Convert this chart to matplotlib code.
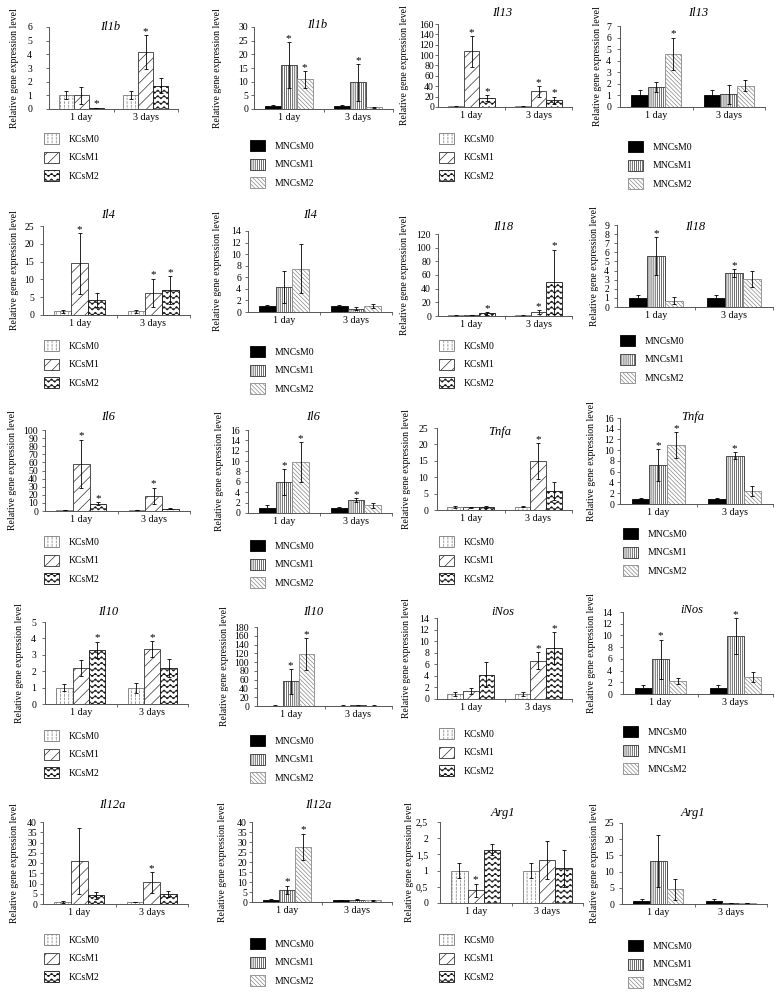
import numpy as np
import matplotlib
matplotlib.use('Agg')
import matplotlib.pyplot as plt
import matplotlib.hatch as mhatch
from matplotlib.path import Path
from matplotlib.ticker import MultipleLocator, FuncFormatter

# ---------------- custom hatches (wave '~' and dashed vertical ':') -------------
mhatch._validate_hatch_pattern = lambda h: None


class WaveHatch(mhatch.HatchPatternBase):
    def __init__(self, hatch, density):
        self.num_lines = int(hatch.count('~') * density)
        self.periods = 16
        self.pts = self.periods * 8 + 1
        self.num_vertices = self.num_lines * self.pts

    def set_vertices_and_codes(self, vertices, codes):
        n, p = self.num_lines, self.pts
        xs = np.linspace(0, 1, p)
        amp = 0.3 / n
        k = 0
        for i in range(n):
            y0 = (i + 0.5) / n
            vertices[k:k + p, 0] = xs
            vertices[k:k + p, 1] = y0 + amp * np.sin(2 * np.pi * self.periods * xs)
            codes[k] = Path.MOVETO
            codes[k + 1:k + p] = Path.LINETO
            k += p


class DashHatch(mhatch.HatchPatternBase):
    def __init__(self, hatch, density):
        self.num_cols = int(hatch.count(':') * density)
        self.num_dashes = int(self.num_cols * 1.2)
        self.num_vertices = self.num_cols * self.num_dashes * 2

    def set_vertices_and_codes(self, vertices, codes):
        n, m = self.num_cols, self.num_dashes
        xs = (np.arange(n) + 0.5) / n
        y0 = np.arange(m) / m
        y1 = y0 + 0.55 / m
        X = np.repeat(xs, m)
        vertices[0::2, 0] = X
        vertices[0::2, 1] = np.tile(y0, n)
        vertices[1::2, 0] = X
        vertices[1::2, 1] = np.tile(y1, n)
        codes[0::2] = Path.MOVETO
        codes[1::2] = Path.LINETO


mhatch._hatch_types.append(WaveHatch)
mhatch._hatch_types.append(DashHatch)

plt.rcParams['font.family'] = ['Liberation Serif', 'DejaVu Serif']
plt.rcParams['hatch.linewidth'] = 0.5

# ---------------- data (rows = series M0, M1, M2 ; columns = days) ----------------
days = ['1 day', '3 days']
kc_series = ['KCsM0', 'KCsM1', 'KCsM2']
mnc_series = ['MNCsM0', 'MNCsM1', 'MNCsM2']
ylabel = 'Relative gene expression level'

genes = ['Il1b', 'Il1b', 'Il13', 'Il13',
         'Il4', 'Il4', 'Il18', 'Il18',
         'Il6', 'Il6', 'Tnfa', 'Tnfa',
         'Il10', 'Il10', 'iNos', 'iNos',
         'Il12a', 'Il12a', 'Arg1', 'Arg1']
cells = ['KC', 'MNC'] * 10

il1b_kc = [[1.0, 1.0], [1.0, 4.15], [0.07, 1.7]]
il1b_kc_err = [[0.3, 0.3], [0.6, 1.25], [0.03, 0.55]]
il1b_kc_sig = [[0, 0], [0, 1], [1, 0]]

il1b_mnc = [[1.0, 1.0], [16.0, 9.7], [10.8, 0.6]]
il1b_mnc_err = [[0.3, 0.3], [8.5, 6.6], [3.2, 0.2]]
il1b_mnc_sig = [[0, 0], [1, 1], [1, 0]]

il13_kc = [[1.0, 1.0], [107, 30], [17, 13]]
il13_kc_err = [[0.5, 0.5], [30, 11], [6, 7]]
il13_kc_sig = [[0, 0], [1, 1], [1, 1]]

il13_mnc = [[1.0, 1.0], [1.75, 1.1], [4.6, 1.85]]
il13_mnc_err = [[0.5, 0.5], [0.45, 0.8], [1.4, 0.5]]
il13_mnc_sig = [[0, 0], [0, 0], [1, 0]]

il4_kc = [[1.0, 1.0], [14.5, 6.2], [4.2, 7.0]]
il4_kc_err = [[0.3, 0.3], [8.5, 4.0], [2.0, 4.0]]
il4_kc_sig = [[0, 0], [1, 1], [0, 1]]

il4_mnc = [[1.0, 1.0], [4.3, 0.6], [7.5, 1.0]]
il4_mnc_err = [[0.2, 0.2], [2.7, 0.2], [4.3, 0.3]]
il4_mnc_sig = [[0, 0], [0, 0], [0, 0]]

il18_kc = [[1.0, 1.0], [1.5, 6.0], [4.0, 50]]
il18_kc_err = [[0.3, 0.3], [0.5, 3.0], [2.0, 47]]
il18_kc_sig = [[0, 0], [0, 1], [1, 1]]

il18_mnc = [[1.0, 1.0], [5.6, 3.75], [0.7, 3.1]]
il18_mnc_err = [[0.3, 0.3], [2.1, 0.45], [0.4, 0.9]]
il18_mnc_sig = [[0, 0], [1, 1], [0, 0]]

il6_kc = [[1.0, 1.0], [58, 19], [9, 3]]
il6_kc_err = [[0.3, 0.3], [30, 10], [2, 1]]
il6_kc_sig = [[0, 0], [1, 1], [1, 0]]

il6_mnc = [[1.0, 1.0], [5.9, 2.5], [9.8, 1.5]]
il6_mnc_err = [[0.5, 0.2], [2.5, 0.4], [3.9, 0.5]]
il6_mnc_sig = [[0, 0], [1, 1], [1, 0]]

tnfa_kc = [[1.0, 1.0], [0.8, 14.8], [0.9, 5.8]]
tnfa_kc_err = [[0.3, 0.2], [0.2, 5.5], [0.2, 2.6]]
tnfa_kc_sig = [[0, 0], [0, 1], [0, 0]]

tnfa_mnc = [[1.0, 1.0], [7.2, 9.0], [11.0, 2.4]]
tnfa_mnc_err = [[0.1, 0.1], [3.0, 0.7], [2.4, 1.0]]
tnfa_mnc_sig = [[0, 0], [1, 1], [1, 0]]

il10_kc = [[1.0, 1.0], [2.2, 3.35], [3.3, 2.2]]
il10_kc_err = [[0.2, 0.3], [0.5, 0.5], [0.5, 0.55]]
il10_kc_sig = [[0, 0], [0, 1], [1, 0]]

il10_mnc = [[1.0, 1.0], [56, 1.2], [118, 1.0]]
il10_mnc_err = [[0.3, 0.3], [28, 0.3], [36, 0.5]]
il10_mnc_sig = [[0, 0], [1, 0], [1, 0]]

inos_kc = [[0.9, 0.9], [1.4, 6.6], [4.2, 8.8]]
inos_kc_err = [[0.3, 0.3], [0.5, 1.5], [2.2, 2.7]]
inos_kc_sig = [[0, 0], [0, 1], [0, 1]]

inos_mnc = [[1.0, 1.0], [5.9, 9.9], [2.2, 2.9]]
inos_mnc_err = [[0.6, 0.6], [3.4, 3.0], [0.5, 0.8]]
inos_mnc_sig = [[0, 0], [1, 1], [0, 0]]

il12a_kc = [[1.0, 1.0], [21, 10.5], [4.2, 4.7]]
il12a_kc_err = [[0.3, 0.2], [16, 5], [1.8, 1.5]]
il12a_kc_sig = [[0, 0], [0, 1], [0, 0]]

il12a_mnc = [[1.0, 1.0], [6.0, 1.2], [27.7, 0.9]]
il12a_mnc_err = [[0.3, 0.2], [2.2, 0.2], [6.5, 0.2]]
il12a_mnc_sig = [[0, 0], [1, 0], [1, 0]]

arg1_kc = [[1.0, 1.0], [0.4, 1.32], [1.65, 1.07]]
arg1_kc_err = [[0.22, 0.22], [0.2, 0.58], [0.18, 0.57]]
arg1_kc_sig = [[0, 0], [1, 0], [0, 0]]

arg1_mnc = [[1.0, 1.0], [13.4, 0.35], [4.5, 0.3]]
arg1_mnc_err = [[0.4, 0.4], [8.0, 0.1], [3.3, 0.1]]
arg1_mnc_sig = [[0, 0], [0, 0], [0, 0]]

means = [il1b_kc, il1b_mnc, il13_kc, il13_mnc, il4_kc, il4_mnc, il18_kc, il18_mnc,
         il6_kc, il6_mnc, tnfa_kc, tnfa_mnc, il10_kc, il10_mnc, inos_kc, inos_mnc,
         il12a_kc, il12a_mnc, arg1_kc, arg1_mnc]
errs = [il1b_kc_err, il1b_mnc_err, il13_kc_err, il13_mnc_err, il4_kc_err, il4_mnc_err,
        il18_kc_err, il18_mnc_err, il6_kc_err, il6_mnc_err, tnfa_kc_err, tnfa_mnc_err,
        il10_kc_err, il10_mnc_err, inos_kc_err, inos_mnc_err, il12a_kc_err, il12a_mnc_err,
        arg1_kc_err, arg1_mnc_err]
sigs = [il1b_kc_sig, il1b_mnc_sig, il13_kc_sig, il13_mnc_sig, il4_kc_sig, il4_mnc_sig,
        il18_kc_sig, il18_mnc_sig, il6_kc_sig, il6_mnc_sig, tnfa_kc_sig, tnfa_mnc_sig,
        il10_kc_sig, il10_mnc_sig, inos_kc_sig, inos_mnc_sig, il12a_kc_sig, il12a_mnc_sig,
        arg1_kc_sig, arg1_mnc_sig]

y_max = [6, 30, 160, 7, 25, 14, 120, 9, 100, 16, 25, 16, 5, 180, 14, 14, 40, 40, 2.5, 25]
y_step = [1, 5, 20, 1, 5, 2, 20, 1, 10, 2, 5, 2, 1, 20, 2, 2, 5, 5, 0.5, 5]

# ---------------- layout (pixels) ----------------
W, H = 776, 996
# (x of y-axis, right end, y of top, y of zero)
axes_px = [(49, 178, 27, 109), (254, 393, 27, 109), (438, 572, 24, 107), (620, 765, 26, 107),
           (43, 190, 226, 315), (248, 392, 231, 312), (438, 572, 234, 316), (617, 773, 225, 307),
           (45, 190, 430, 511), (248, 392, 430, 513), (437, 572, 428, 510), (620, 773, 418, 504),
           (45, 188, 622, 704), (257, 392, 627, 706), (437, 572, 618, 699), (623, 773, 612, 694),
           (43, 188, 822, 904), (252, 392, 822, 902), (440, 583, 822, 903), (622, 767, 823, 904)]
label_gap = [16, 5, 3, 8, 8, 6, 6, 7, 6, 7, 8, 5, 8, 7, 7, 10, 5, 4, 11, 7]
title_px = [(110, 27), (317, 25), (502, 13), (698, 13),
            (108, 215), (310, 215), (503, 227), (695, 227),
            (108, 417), (313, 417), (500, 432), (693, 417),
            (108, 612), (313, 612), (503, 612), (692, 610),
            (112, 805), (318, 805), (503, 813), (693, 813)]
ylabel_x = [15, 218, 405, 598, 15, 218, 405, 595, 13, 220, 407, 592,
            20, 225, 407, 592, 15, 223, 410, 595]
legend_px = [(44, 140), (250, 147), (439, 140), (628, 148),
             (44, 347), (250, 353), (439, 347), (620, 342),
             (44, 543), (250, 547), (439, 543), (623, 535),
             (44, 737), (250, 742), (439, 735), (623, 733),
             (44, 941), (250, 945), (439, 941), (628, 947)]

styles = {
    'KC': [dict(facecolor='white', edgecolor='#777777', hatch='::::'),
           dict(facecolor='white', edgecolor='#333333', hatch='///'),
           dict(facecolor='white', edgecolor='#111111', hatch='~~~')],
    'MNC': [dict(facecolor='black', edgecolor='black'),
            dict(facecolor='white', edgecolor='#333333', hatch='||||||||'),
            dict(facecolor='white', edgecolor='#888888', hatch='\\\\\\\\\\\\\\\\')],
}

fig = plt.figure(figsize=(W / 100, H / 100), dpi=100)
fmt = FuncFormatter(lambda v, p: ('%g' % round(v, 3)).replace('.', ','))
bw = 0.23

for i in range(20):
    x0, x1, yt, yz = axes_px[i]
    ax = fig.add_axes([x0 / W, 1 - yz / H, (x1 - x0) / W, (yz - yt) / H])
    kind = cells[i]
    names = kc_series if kind == 'KC' else mnc_series
    m = np.array(means[i], dtype=float)
    e = np.array(errs[i], dtype=float)
    s = np.array(sigs[i])
    x = np.arange(len(days))
    handles = []
    for k in range(3):
        xs = x + (k - 1) * bw
        b = ax.bar(xs, m[k], bw, yerr=e[k], linewidth=0.6, label=names[k], zorder=2,
                   error_kw=dict(ecolor='black', elinewidth=0.6, capsize=1.5, capthick=0.6),
                   **styles[kind][k])
        handles.append(b)
        for d in range(len(days)):
            if s[k][d]:
                ax.annotate('*', xy=(xs[d], m[k][d] + e[k][d]), xytext=(0, 0.8),
                            textcoords='offset points', ha='center', va='baseline',
                            fontsize=8)
    ax.set_xlim(-0.5, 1.5)
    ax.set_ylim(0, y_max[i])
    ax.yaxis.set_major_locator(MultipleLocator(y_step[i]))
    ax.yaxis.set_major_formatter(fmt)
    ax.set_xticks(x)
    ax.set_xticklabels(days)
    ax.set_xticks([0.5, 1.5], minor=True)
    for sp in ['top', 'right']:
        ax.spines[sp].set_visible(False)
    for sp in ['left', 'bottom']:
        ax.spines[sp].set_color('#555555')
        ax.spines[sp].set_linewidth(0.7)
    ax.tick_params(axis='x', which='major', length=0, pad=3, labelsize=7.2)
    ax.tick_params(axis='x', which='minor', length=2.5, width=0.6, color='#555555')
    ax.tick_params(axis='y', length=2.5, width=0.6, color='#555555', labelsize=7,
                   pad=max(label_gap[i] - 2.5, 0.5) * 0.72)
    ax.set_ylabel(ylabel, fontsize=7)
    ax.yaxis.set_label_coords((ylabel_x[i] + 4 - x0) / (x1 - x0), 0.5)
    tx, ty = title_px[i]
    fig.text(tx / W, 1 - ty / H, genes[i], fontsize=9, style='italic',
             ha='center', va='center')
    lx, ly = legend_px[i]
    fig.legend(handles=[h.patches[0] for h in handles], labels=names,
               loc='upper left', bbox_to_anchor=(lx / W, 1 - (ly - 7) / H),
               frameon=False, fontsize=7, handlelength=1.55, handleheight=1.4,
               handletextpad=1.0, labelspacing=0.75, borderpad=0, borderaxespad=0)

fig.savefig('out.png', dpi=100)
